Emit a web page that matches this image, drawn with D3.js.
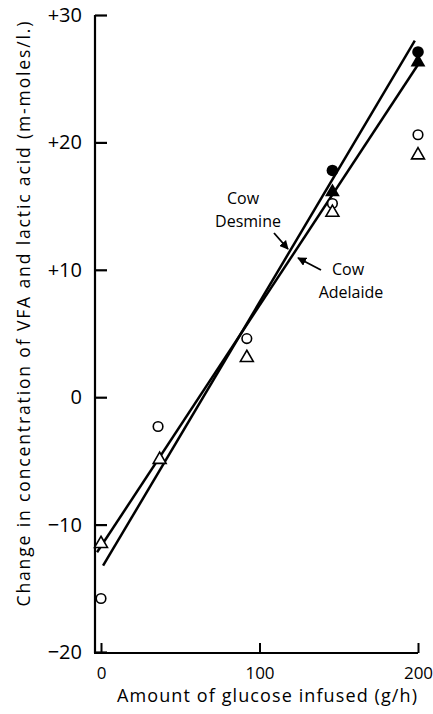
<!DOCTYPE html>
<html>
<head>
<meta charset="utf-8">
<script src="https://cdn.jsdelivr.net/npm/d3@7"></script>
<style>
  body { margin: 0; background: #fff; }
  svg { display: block; font-family: "Open Sans", Lato, sans-serif; }
</style>
</head>
<body>
<div id="chart"></div>
<script>
// Values
const xTicks = [0, 100, 200];
const yTicks = [30, 20, 10, 0, -10, -20];

// Open circles
const openCircleX = [0, 36, 92, 146, 200];
const openCircleY = [-15.8, -2.3, 4.6, 15.2, 20.6];
// Open triangles
const openTriX = [0, 37, 92, 146, 200];
const openTriY = [-11.5, -4.9, 3.1, 14.5, 19.0];
// Filled circles
const filledCircleX = [146, 200];
const filledCircleY = [17.8, 27.1];
// Filled triangles
const filledTriX = [146, 200];
const filledTriY = [16.1, 26.3];

// Fitted lines
const lineNames = ["Desmine", "Adelaide"];
const lineIntercepts = [-13.5, -11.7];
const lineSlopes = [0.2095, 0.189];
const lineStartX = [1.3, -2.5];
const lineEndX = [198, 201.3];

const width = 433, height = 714;

const svg = d3.select("#chart")
    .append("svg")
    .attr("width", width)
    .attr("height", height);

const x = d3.scaleLinear().domain([0, 200]).range([101, 418]);
const y = d3.scaleLinear().domain([-20, 30]).range([652, 15]);
const axisX = 95;   // y axis sits slightly left of x = 0
const axisY = 653;

// Axis lines
svg.append("line")
    .attr("x1", axisX).attr("x2", axisX)
    .attr("y1", axisY).attr("y2", y(30))
    .attr("stroke", "#000").attr("stroke-width", 2.2);
svg.append("line")
    .attr("x1", axisX - 1).attr("x2", x(200))
    .attr("y1", axisY).attr("y2", axisY)
    .attr("stroke", "#000").attr("stroke-width", 2.2);

// Y axis ticks (inward) and labels
const fmtY = d => d > 0 ? "+" + d : (d < 0 ? "\u2212" + Math.abs(d) : "0");
const yAxis = svg.append("g")
    .attr("transform", `translate(${axisX},0)`)
    .call(d3.axisLeft(y).tickValues(yTicks).tickSize(-12).tickPadding(13).tickFormat(fmtY));
yAxis.select(".domain").remove();
yAxis.selectAll("line").attr("stroke", "#000").attr("stroke-width", 2.2);
yAxis.selectAll("text")
    .attr("fill", "#000")
    .style("font-size", "20px")
    .style("font-family", "'Open Sans', sans-serif");

// X axis ticks (inward) and labels
const xAxis = svg.append("g")
    .attr("transform", `translate(0,${axisY})`)
    .call(d3.axisBottom(x).tickValues(xTicks).tickSize(-10).tickPadding(14).tickFormat(d3.format("d")));
xAxis.select(".domain").remove();
xAxis.selectAll("line").attr("stroke", "#000").attr("stroke-width", 2);
xAxis.selectAll("text")
    .attr("fill", "#000")
    .style("font-size", "17px")
    .style("font-family", "'Open Sans', sans-serif");

// Axis titles
svg.append("text")
    .attr("x", 267).attr("y", 702)
    .attr("text-anchor", "middle")
    .attr("textLength", 300)
    .style("font-size", "18px")
    .text("Amount of glucose infused (g/h)");

svg.append("text")
    .attr("transform", "translate(30,314) rotate(-90)")
    .attr("text-anchor", "middle")
    .attr("textLength", 585)
    .style("font-size", "17.5px")
    .text("Change in concentration of VFA and lactic acid (m-moles/l.)");

// Fitted lines
lineNames.forEach((name, i) => {
    svg.append("line")
        .attr("x1", x(lineStartX[i]))
        .attr("y1", y(lineIntercepts[i] + lineSlopes[i] * lineStartX[i]))
        .attr("x2", x(lineEndX[i]))
        .attr("y2", y(lineIntercepts[i] + lineSlopes[i] * lineEndX[i]))
        .attr("stroke", "#000")
        .attr("stroke-width", 2.5);
});

// Markers
const tri = d3.symbol().type(d3.symbolTriangle).size(72);

openCircleX.forEach((v, i) => {
    svg.append("circle")
        .attr("cx", x(v)).attr("cy", y(openCircleY[i]))
        .attr("r", 4.8)
        .attr("fill", "#fff").attr("stroke", "#000").attr("stroke-width", 1.6);
});
openTriX.forEach((v, i) => {
    svg.append("path")
        .attr("d", tri())
        .attr("transform", `translate(${x(v)},${y(openTriY[i])})`)
        .attr("fill", "#fff").attr("stroke", "#000").attr("stroke-width", 1.6);
});
filledCircleX.forEach((v, i) => {
    svg.append("circle")
        .attr("cx", x(v)).attr("cy", y(filledCircleY[i]))
        .attr("r", 5.8)
        .attr("fill", "#000");
});
filledTriX.forEach((v, i) => {
    svg.append("path")
        .attr("d", d3.symbol().type(d3.symbolTriangle).size(95)())
        .attr("transform", `translate(${x(v)},${y(filledTriY[i])})`)
        .attr("fill", "#000");
});

// Annotations
svg.append("defs").append("marker")
    .attr("id", "arrow")
    .attr("viewBox", "0 0 10 10")
    .attr("refX", 9).attr("refY", 5)
    .attr("markerWidth", 5).attr("markerHeight", 5)
    .attr("orient", "auto")
    .append("path")
    .attr("d", "M0,0 L10,5 L0,10 Z")
    .attr("fill", "#000");

const labelFont = "16px";
svg.append("text").attr("x", 243).attr("y", 204).attr("text-anchor", "middle")
    .style("font-size", labelFont).text("Cow");
svg.append("text").attr("x", 248).attr("y", 227).attr("text-anchor", "middle")
    .style("font-size", labelFont).text("Desmine");
svg.append("line")
    .attr("x1", 274).attr("y1", 233).attr("x2", 288).attr("y2", 249)
    .attr("stroke", "#000").attr("stroke-width", 1.8)
    .attr("marker-end", "url(#arrow)");

svg.append("text").attr("x", 348).attr("y", 275).attr("text-anchor", "middle")
    .style("font-size", labelFont).text("Cow");
svg.append("text").attr("x", 351).attr("y", 298).attr("text-anchor", "middle")
    .style("font-size", labelFont).text("Adelaide");
svg.append("line")
    .attr("x1", 321).attr("y1", 270).attr("x2", 298).attr("y2", 258)
    .attr("stroke", "#000").attr("stroke-width", 1.8)
    .attr("marker-end", "url(#arrow)");
</script>
</body>
</html>
